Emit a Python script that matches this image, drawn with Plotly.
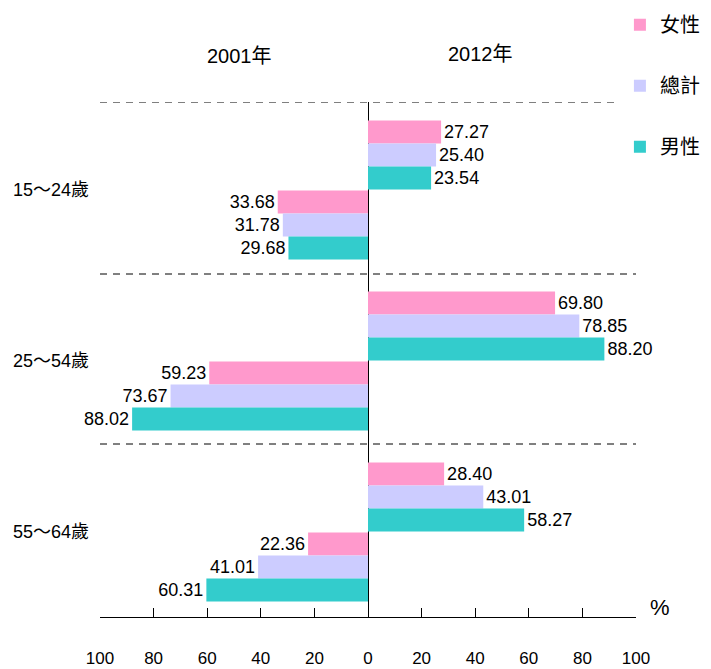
import plotly.graph_objects as go

# Age groups and series
age_groups = ['15～24歲', '25～54歲', '55～64歲']
series_names = ['女性', '總計', '男性']
colors = ['#FF99CC', '#CCCCFF', '#33CCCC']

# values per series, one per age group
values_2012 = {
    '女性': [27.27, 69.80, 28.40],
    '總計': [25.40, 78.85, 43.01],
    '男性': [23.54, 88.20, 58.27],
}
values_2001 = {
    '女性': [33.68, 59.23, 22.36],
    '總計': [31.78, 73.67, 41.01],
    '男性': [29.68, 88.02, 60.31],
}

tick_vals = [-100, -80, -60, -40, -20, 0, 20, 40, 60, 80, 100]
tick_text = ['100', '80', '60', '40', '20', '0', '20', '40', '60', '80', '100']

FONT = "Liberation Sans, Noto Sans CJK TC, sans-serif"

# y axis in pixel-like units (top of plot = 102, bottom = 617)
group_centers = [190, 361, 532]
offsets_2012 = [-58, -35, -12]
offsets_2001 = [12, 35, 58]
bar_h = 23

fig = go.Figure()

for i, name in enumerate(series_names):
    xs, ys, txt = [], [], []
    for g, c in enumerate(group_centers):
        xs.append(values_2012[name][g])
        ys.append(c + offsets_2012[i])
        txt.append(f"{values_2012[name][g]:.2f}")
        xs.append(-values_2001[name][g])
        ys.append(c + offsets_2001[i])
        txt.append(f"{values_2001[name][g]:.2f}")
    fig.add_trace(go.Bar(
        x=xs, y=ys, orientation='h', width=bar_h,
        name=name, legendgroup=name,
        marker=dict(color=colors[i], line=dict(width=0)),
        text=txt, textposition='outside', constraintext='none',
        cliponaxis=False,
        textfont=dict(size=18, color='black', family=FONT),
        hoverinfo='skip',
    ))

# dashed separators
dash_lines = [(102, 92), (274, 100), (444, 100)]
for y, x1 in dash_lines:
    fig.add_shape(type='line', xref='x', yref='y', x0=-100, x1=x1, y0=y, y1=y,
                  line=dict(color='black', width=1, dash='7px,6px'))

# year headers and unit label (paper y: 1 = top of plot, 0 = axis line)
fig.add_annotation(text='2001年', x=-48, y=1.089, xref='x', yref='paper', showarrow=False,
                   xanchor='center', yanchor='middle',
                   font=dict(size=20, family=FONT, color='black'))
fig.add_annotation(text='2012年', x=42, y=1.093, xref='x', yref='paper', showarrow=False,
                   xanchor='center', yanchor='middle',
                   font=dict(size=20, family=FONT, color='black'))
fig.add_annotation(text='%', x=1.045, y=0.018, xref='paper', yref='paper', showarrow=False,
                   xanchor='center', yanchor='middle',
                   font=dict(size=22, family=FONT, color='black'))

# page body has an 8px margin, so margins are shifted back by 8px
fig.update_layout(
    width=711, height=669,
    margin=dict(l=92, r=83, t=94, b=60, autoexpand=False),
    paper_bgcolor='white', plot_bgcolor='white',
    barmode='overlay',
    font=dict(family=FONT, color='black'),
    legend=dict(x=0.970, y=1.188, xanchor='left', yanchor='top',
                font=dict(size=20, family=FONT), tracegroupgap=32,
                itemwidth=30, bgcolor='rgba(0,0,0,0)'),
    xaxis=dict(range=[-100, 100], tickvals=tick_vals, ticktext=tick_text,
               showgrid=False, zeroline=True, zerolinecolor='black', zerolinewidth=1,
               showline=True, linecolor='black', linewidth=1,
               ticks='inside', ticklen=9, tickcolor='black',
               ticklabelstandoff=26, tickfont=dict(size=17, family=FONT)),
    yaxis=dict(range=[617, 102], tickvals=group_centers, ticktext=age_groups,
               showgrid=False, zeroline=False, showline=False, ticks='',
               ticklabelstandoff=10, tickfont=dict(size=18, family=FONT)),
)

fig.write_html("out.html")
